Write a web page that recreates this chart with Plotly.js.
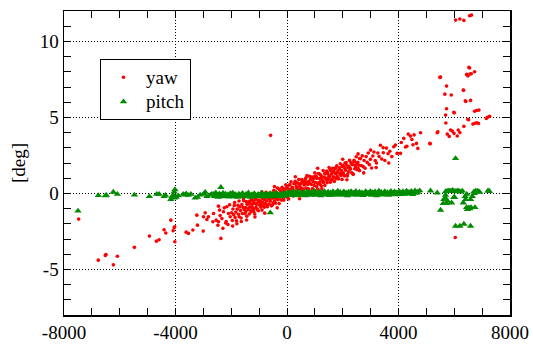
<!DOCTYPE html>
<html>
<head>
<meta charset="utf-8">
<script src="https://cdn.plot.ly/plotly-3.0.1.min.js"></script>
<style>html,body{margin:0;padding:0;background:#fff;}#chart{width:533px;height:347px;}</style>
</head>
<body>
<div id="chart"></div>
<script>
// ---- tick labels ----
const xTickVals = [-8000, -4000, 0, 4000, 8000];
const xTickText = ['-8000', '-4000', '0', '4000', '8000'];
const yTickVals = [-5, 0, 5, 10];
const yTickText = ['-5', '0', '5', '10'];
const seriesNames = ['yaw', 'pitch'];

// ---- yaw: sparse points (left side + transition) ----
const yawSparseX = [-7474,-6769,-6517,-6493,-6230,-6086,-5475,-4937,-4685,-4588,
  -4409,-4348,-4168,-4085,-4049,-4030,-4024,-3618,-3535,-3377,
  -3234,-3212,-3007,-2997,-2935,-2874,-2817,-2659,-2635,-2540,
  -2457,-2372,-2457,-2336,-2278,-2156,-2098,-2037,-2200,-2400,
  -589];
const yawSparseY = [-1.69,-4.39,-4.08,-4.02,-4.70,-4.13,-3.55,-2.81,-3.14,-3.05,
  -2.39,-2.61,-1.76,-2.46,-2.26,-2.20,-3.18,-2.55,-2.63,-2.41,
  -1.43,-2.09,-2.48,-1.54,-1.28,-1.71,-1.54,-1.87,-1.32,-1.76,
  -1.87,-2.96,-0.84,-1.65,-1.21,-0.88,-1.32,-1.54,-1.95,-1.45,
  3.82];

// ---- yaw: dense band ----
const yawBandX = [-1985,-1962,-1940,-1911,-1890,-1862,-1835,-1811,-1786,-1760,
  -1741,-1715,-1693,-1668,-1647,-1620,-1598,-1575,-1552,-1531,
  -1505,-1487,-1463,-1440,-1418,-1396,-1374,-1355,-1333,-1309,
  -1288,-1266,-1245,-1221,-1200,-1179,-1157,-1134,-1112,-1090,
  -1071,-1048,-1026,-1004,-983,-961,-940,-918,-897,-875,
  -856,-834,-812,-790,-771,-749,-727,-705,-686,-664,
  -642,-620,-601,-579,-557,-535,-516,-494,-472,-450,
  -431,-409,-387,-366,-344,-322,-303,-281,-259,-238,
  -216,-197,-175,-153,-131,-112,-90,-68,-46,-25,
  -6,16,38,59,81,100,122,144,165,187,
  209,228,250,272,293,315,334,356,378,400,
  421,443,462,484,506,528,549,571,590,612,
  634,656,677,696,718,740,762,784,805,824,
  846,868,890,911,933,952,974,996,1018,1039,
  1061,1080,1102,1124,1146,1167,1186,1208,1230,1252,
  1273,1295,1314,1336,1358,1380,1401,1423,1442,1464,
  1486,1508,1529,1551,1570,1592,1614,1636,1657,1679,
  1698,1720,1742,1764,1785,1807,1826,1848,1870,1892,
  1913,1935,1954,1976,1998,2020,2041,2063,2085,2110,
  2138,2163,2191,2216,2244,2270,2297,2323,2351,2378,
  2404,2430,2458,2485,2512,2540,2571,2602,2633,2665,
  2700,2734,2768,2802,2840,2878,2915,2953,2992,3035,
  3078,3120,3165,3210,3258,3305,3352,3400,3455,3510,
  3568,3625,3690,3760,3830,3890,3950];
const yawBandY = [-1.27,-1.78,-1.03,-1.40,-0.80,-1.58,-1.23,-1.81,-1.03,-0.78,
  -1.37,-1.54,-0.89,-1.13,-1.62,-0.74,-1.32,-0.93,-0.48,-1.08,
  -1.34,-0.93,-0.53,-1.50,-0.72,-1.07,-0.57,-1.36,-0.89,-0.69,
  -1.13,-0.40,-0.92,-0.51,-1.18,-0.65,-1.35,-0.33,-0.92,-0.65,
  -1.03,-0.43,-1.14,-0.54,-0.78,-0.13,-0.90,-0.55,-1.10,-0.34,
  -0.62,-0.16,-0.91,-0.33,-0.69,0.08,-0.50,-0.88,-0.12,-0.34,
  -0.70,0.03,-0.52,-0.15,-0.82,0.02,-0.31,-0.63,0.21,-0.48,
  -0.12,-0.64,0.08,-0.28,0.35,-0.41,-0.10,-0.67,0.25,-0.23,
  0.14,-0.44,0.40,-0.07,0.25,-0.44,0.11,-0.18,0.57,-0.02,
  0.40,-0.26,0.27,-0.37,0.55,-0.01,0.25,0.77,-0.08,0.40,
  0.21,-0.16,0.63,0.16,0.79,0.07,0.45,-0.06,0.69,0.31,
  0.91,0.13,0.47,-0.11,0.66,0.91,0.32,0.15,0.79,0.55,
  0.06,0.94,0.35,0.74,1.18,0.59,0.32,0.74,1.13,0.16,
  0.93,0.59,1.08,0.30,0.76,0.96,0.52,1.35,0.72,1.14,
  0.46,0.99,0.29,1.31,0.71,0.99,0.60,1.21,0.49,1.09,
  0.85,1.50,0.73,1.08,0.52,1.29,1.00,1.47,0.71,1.28,
  0.93,1.70,1.12,0.74,1.49,1.27,0.91,1.65,1.09,1.46,
  0.79,1.62,1.30,0.97,1.81,1.12,1.48,0.96,1.68,1.31,
  1.95,1.18,1.50,0.92,1.84,1.36,1.73,1.15,1.99,1.52,
  1.85,1.15,1.71,1.42,2.17,1.59,2.01,1.36,1.89,1.25,
  2.17,1.62,1.88,2.41,1.56,2.05,1.86,1.50,2.29,1.84,
  2.47,1.76,2.16,1.65,2.42,2.04,2.66,1.89,2.24,1.67,
  2.46,2.72,2.16,2.00,2.66,2.43,3.17,2.26,2.67,2.16,
  2.98,2.61,2.77,2.42,3.07,3.18,2.63];

// ---- yaw: second pass through the dense core ----
const yawCoreX = [-1480,-1432,-1384,-1335,-1287,-1240,-1190,-1143,-1095,-1047,
  -998,-951,-902,-855,-806,-759,-710,-663,-614,-567,
  -518,-471,-422,-375,-326,-279,-230,-183,-134,-87,
  -38,9,58,105,154,201,250,297,346,393,
  442,489,538,585,634,681,730,777,826,873,
  922,969,1018,1065,1114,1161,1210,1257,1306,1353,
  1402,1449,1498,1545,1594,1641,1690,1737,1786,1833,
  1882,1929,1978,2025,2074,2121,2170,2217,2266,2313,
  2362,2409,2458,2505,2554,2601];
const yawCoreY = [-1.19,-0.70,-0.99,-0.50,-1.20,-0.72,-1.01,-0.42,-0.72,-1.10,
  -0.46,-0.73,-0.29,-0.81,-0.42,-0.02,-0.79,-0.26,-0.39,-0.10,
  -0.75,0.06,-0.31,-0.01,-0.39,0.27,-0.21,0.01,-0.30,0.29,
  -0.11,0.38,0.09,0.57,-0.12,0.35,0.06,0.65,0.34,-0.03,
  0.60,0.32,0.77,0.24,0.62,1.03,0.25,0.78,0.65,0.94,
  0.29,1.09,0.72,1.02,0.63,1.29,0.81,1.03,0.71,1.31,
  0.90,1.38,1.10,1.58,0.89,1.36,1.06,1.66,1.35,0.97,
  1.61,1.33,1.77,1.25,1.63,2.03,1.26,1.79,1.66,1.95,
  1.29,2.10,1.73,2.02,1.64,2.30];

// ---- yaw: scattered points at the edges of the band ----
const yawEdgeX = [-2480,-2420,-2300,-2250,-2180,-2120,-2060,-1950,-1880,-1800,
  -1720,-1640,-1560,-1450,-1300,-1150,-900,-800,-450,-350,
  300,450,1100,1250,2000,2150,2550,2750,3000,3200,
  3450,3650];
const yawEdgeY = [-2.10,-1.10,-2.30,-0.95,-1.85,-2.05,-0.75,-2.15,-0.60,-2.00,
  -0.50,-1.85,-0.35,-1.75,-0.20,-1.55,0.10,-1.30,0.45,-0.95,
  1.10,-0.35,1.65,0.30,2.25,0.90,2.60,1.35,2.85,1.70,
  3.00,2.00];

// ---- yaw: right side (x > 4000) ----
const yawRightX = [4071,4100,4190,4250,4300,4350,4430,4480,4520,4560,
  4646,4693,4790,5124,5138,5389,5411,5484,5508,5663,
  5724,5893,6324,6335,6395,6417,6442,6490,6525,6550,
  6560,6611,6730,6586,5724,5688,5986,6000,6730,6800,
  6885,7186,7269,7150,5699,5868,5930,5748,5820,5990,
  6144,6200,6108,6345,6489,6514,6669,6740,6810,6870,
  6047,6202,6345,6550,6622,6036];
const yawRightY = [2.63,3.35,3.62,3.05,3.10,3.90,3.77,3.55,3.20,3.85,
  3.29,2.96,3.99,3.29,3.26,3.99,4.05,7.63,7.65,6.53,
  7.06,6.47,6.80,6.78,6.09,6.05,7.83,7.72,8.29,8.25,
  7.85,7.87,8.00,6.12,5.57,5.15,5.33,5.30,5.40,5.45,
  5.48,5.00,5.07,4.93,4.63,4.17,4.10,3.90,3.75,3.95,
  4.17,4.00,3.78,4.41,4.87,4.85,4.56,4.62,4.65,4.60,
  11.40,11.47,11.38,11.69,11.73,-2.90];

// ---- pitch: sparse points (left side) ----
const pitchSparseX = [-7499,-6769,-6517,-6481,-6230,-6086,-5475,-4937,-4671,-4588,
  -4409,-4362,-4168,-4132,-4070,-4049,-4040,-4020,-3980,-3900,
  -3726,-3660,-3618,-3546,-3449,-3295,-3212,-3115,-2997,-2935,
  -2874,-2756,-2700,-2372,-600];
const pitchSparseY = [-1.15,-0.13,-0.15,-0.12,0.09,-0.05,-0.10,-0.20,-0.05,-0.05,
  -0.20,-0.12,-0.40,-0.22,-0.15,0.10,-0.30,0.25,-0.25,-0.15,
  -0.05,-0.10,-0.02,-0.12,-0.05,-0.30,-0.25,-0.10,-0.05,0.08,
  -0.20,-0.12,-0.05,0.40,-1.27];

// ---- pitch: dense band ----
const pitchBandX = [-2640,-2600,-2555,-2510,-2470,-2425,-2380,-2340,-2295,-2250,
  -2210,-2165,-2120,-2080,-2035,-1990,-1950,-1905,-1860,-1820,
  -1775,-1730,-1690,-1645,-1600,-1560,-1515,-1470,-1430,-1385,
  -1340,-1300,-1255,-1210,-1170,-1125,-1080,-1040,-995,-950,
  -910,-865,-820,-780,-735,-690,-650,-605,-560,-520,
  -475,-430,-390,-345,-300,-260,-215,-170,-130,-85,
  -40,0,45,90,130,175,220,260,305,350,
  390,435,480,520,565,610,650,695,740,780,
  825,870,910,955,1000,1040,1085,1130,1170,1215,
  1260,1300,1345,1390,1430,1475,1520,1560,1605,1650,
  1690,1735,1780,1820,1865,1910,1950,1995,2040,2080,
  2125,2170,2210,2255,2300,2340,2385,2430,2470,2515,
  2560,2600,2645,2690,2730,2775,2820,2860,2905,2950,
  2990,3035,3080,3120,3165,3210,3250,3295,3340,3380,
  3425,3470,3510,3555,3600,3640,3685,3730,3770,3815,
  3860,3900,3945,3990,4030,4075,4120,4160,4205,4250,
  4290,4335,4380,4420,4465,4510,4550,4595,4640,4690,4760];
const pitchBandY = [-0.05,-0.20,0.04,-0.12,-0.24,-0.03,-0.10,-0.22,0.02,-0.15,
  -0.04,-0.19,-0.08,-0.23,0.00,-0.13,0.03,-0.21,-0.06,-0.14,
  -0.25,-0.04,-0.11,-0.20,0.01,-0.09,-0.22,-0.05,-0.17,0.04,
  -0.12,-0.24,-0.07,-0.18,-0.01,-0.13,-0.22,-0.06,-0.10,-0.20,
  0.02,-0.14,-0.08,-0.23,-0.04,-0.12,-0.19,0.00,-0.11,-0.21,
  -0.05,-0.13,0.03,-0.18,-0.07,-0.12,-0.22,-0.01,-0.09,-0.17,
  0.04,-0.08,0.08,-0.12,0.01,-0.05,0.11,-0.14,0.03,-0.07,
  0.13,-0.03,-0.13,0.05,-0.06,0.10,-0.15,0.00,0.12,-0.08,
  0.04,-0.12,0.09,-0.04,0.14,-0.11,0.02,-0.06,0.11,-0.14,
  0.03,-0.05,0.13,-0.10,0.00,0.09,-0.13,0.04,-0.03,0.12,
  -0.11,0.02,-0.06,0.15,-0.04,0.08,-0.12,0.01,0.11,-0.07,
  0.04,-0.14,0.09,-0.02,0.12,-0.10,0.03,-0.05,0.14,-0.12,
  0.00,0.10,-0.06,0.05,-0.13,0.02,0.12,-0.07,0.04,-0.03,
  0.13,-0.11,0.06,-0.02,0.11,-0.14,0.03,0.15,-0.05,0.07,
  -0.10,0.01,0.12,-0.04,0.06,-0.12,0.04,0.14,-0.06,0.02,
  0.11,-0.08,0.05,-0.02,0.13,-0.07,0.03,0.12,-0.05,0.06,
  0.16,-0.03,0.08,0.00,0.14,-0.06,0.05,0.17,0.02,0.09,0.18];

// ---- pitch: right side (x > 5000) ----
const pitchRightX = [5149,5389,5690,5750,5810,5870,5930,5990,6050,6110,
  6170,6230,6290,6450,6700,6760,6820,6880,6910,7210,
  7260,5688,5627,5724,5508,5904,6012,6324,6406,6586,
  6442,6520,6600,6741,6470,6560,6047,6202,6345,6586,
  6047,5680,5760,6650,6720,6390,5605,5986];
const pitchRightY = [0.17,0.04,0.12,0.15,0.18,0.14,0.20,0.16,0.12,0.18,
  0.15,0.10,0.16,-0.05,0.10,0.15,0.16,0.12,0.08,0.17,
  0.14,-0.11,-0.40,-0.66,-1.10,-0.62,-0.26,-0.62,-0.40,-0.40,
  -0.92,-0.95,-0.92,-0.92,-1.05,-1.00,-2.15,-2.15,-2.02,-2.15,
  2.30,-0.30,-0.50,-0.20,0.00,-0.20,-0.66,-0.26];

const yawX = [].concat(yawSparseX, yawBandX, yawCoreX, yawEdgeX, yawRightX);
const yawY = [].concat(yawSparseY, yawBandY, yawCoreY, yawEdgeY, yawRightY);
const pitchX = [].concat(pitchSparseX, pitchBandX, pitchRightX);
const pitchY = [].concat(pitchSparseY, pitchBandY, pitchRightY);

const FONT = 'Liberation Serif';
// legend label: text drawn at 19px while the legend line height uses a smaller base size
const legendLabel = s => '<span style="font-size:19px">' + s + '</span>';

const traces = [
  {x: yawX, y: yawY, name: legendLabel(seriesNames[0]), type: 'scatter', mode: 'markers',
   marker: {color: '#ff0000', size: 3.6, symbol: 'circle', line: {width: 0}}},
  {x: pitchX, y: pitchY, name: legendLabel(seriesNames[1]), type: 'scatter', mode: 'markers',
   marker: {color: '#008c00', size: 6.5, symbol: 'triangle-up', line: {width: 0}}}
];

const axisCommon = {
  ticks: 'inside', ticklen: 7, tickwidth: 1, tickcolor: '#000',
  showline: true, linecolor: '#000', linewidth: 1.5, mirror: 'allticks',
  showgrid: true, gridcolor: '#000', gridwidth: 1, griddash: '1px,2px',
  zeroline: false, tickfont: {family: FONT, size: 19, color: '#000'}
};

const layout = {
  width: 533, height: 347,
  margin: {l: 64, r: 23, t: 11, b: 32},
  paper_bgcolor: '#fff', plot_bgcolor: '#fff',
  font: {family: FONT, size: 19, color: '#000'},
  showlegend: true,
  legend: {x: 0.0807, y: 0.842, xanchor: 'left', yanchor: 'top',
           bordercolor: '#000', borderwidth: 1, bgcolor: '#fff', itemwidth: 35,
           font: {family: FONT, size: 16.5, color: '#000'}},
  xaxis: Object.assign({}, axisCommon, {
    range: [-8000, 8000], tickmode: 'array', tickvals: xTickVals, ticktext: xTickText,
    minor: {dtick: 1000, tick0: 0, ticks: 'inside', ticklen: 7, tickcolor: '#000', tickwidth: 1, showgrid: false}
  }),
  yaxis: Object.assign({}, axisCommon, {
    range: [-8, 12], tickmode: 'array', tickvals: yTickVals, ticktext: yTickText,
    title: {text: '[deg]', font: {family: FONT, size: 19, color: '#000'}, standoff: 9},
    minor: {dtick: 1, tick0: 0, ticks: 'inside', ticklen: 7, tickcolor: '#000', tickwidth: 1, showgrid: false}
  })
};

Plotly.newPlot('chart', traces, layout, {staticPlot: true, displayModeBar: false});
</script>
</body>
</html>
